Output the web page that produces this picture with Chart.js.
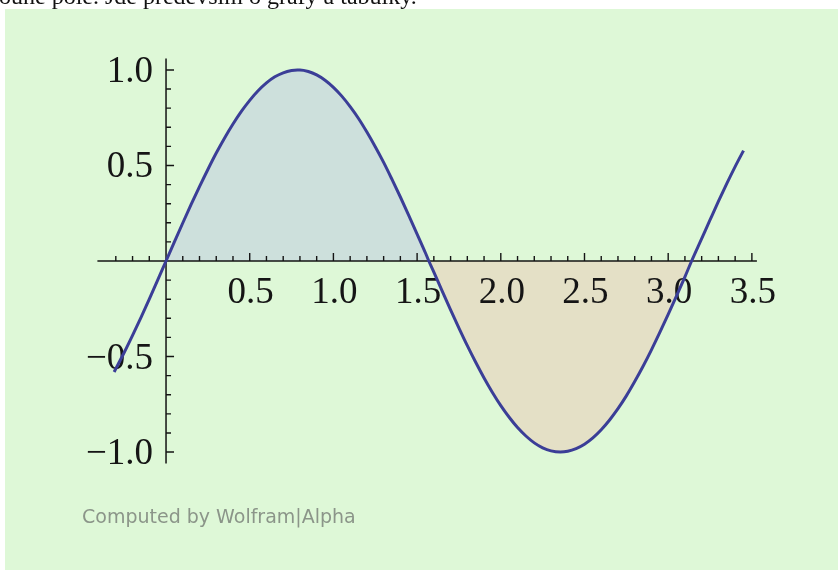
<!DOCTYPE html>
<html>
<head>
<meta charset="utf-8">
<script src="https://cdn.jsdelivr.net/npm/chart.js@4/dist/chart.umd.min.js"></script>
<style>
  html, body { margin: 0; padding: 0; background: #ffffff; overflow: hidden; }
  #panel { position: absolute; left: 5px; top: 9px; width: 833px; height: 561px; background: #def8d7; }
  #plot { position: absolute; left: 0; top: 0; }
</style>
</head>
<body>
<div id="panel"></div>
<canvas id="plot" width="838" height="571"></canvas>
<script>
// Curve samples: x positions and the value of the plotted curve at each
const xValues = [
  -0.31, -0.25, -0.20, -0.15, -0.10, -0.05, 0.00, 0.05, 0.10, 0.15, 0.20, 0.25,
  0.30, 0.35, 0.40, 0.45, 0.50, 0.55, 0.60, 0.65, 0.70, 0.75, 0.785, 0.80, 0.85,
  0.90, 0.95, 1.00, 1.05, 1.10, 1.15, 1.20, 1.25, 1.30, 1.35, 1.40, 1.45, 1.50,
  1.55, 1.57, 1.60, 1.65, 1.70, 1.75, 1.80, 1.85, 1.90, 1.95, 2.00, 2.05, 2.10,
  2.15, 2.20, 2.25, 2.30, 2.356, 2.40, 2.45, 2.50, 2.55, 2.60, 2.65, 2.70, 2.75,
  2.80, 2.85, 2.90, 2.95, 3.00, 3.05, 3.10, 3.14, 3.20, 3.25, 3.30, 3.35, 3.40, 3.45
];
const yValues = [
  -0.581, -0.479, -0.389, -0.296, -0.199, -0.100, 0.000, 0.100, 0.199, 0.296, 0.389, 0.479,
  0.565, 0.644, 0.717, 0.783, 0.841, 0.891, 0.932, 0.964, 0.985, 0.997, 1.000, 1.000, 0.992,
  0.974, 0.946, 0.909, 0.863, 0.808, 0.746, 0.675, 0.598, 0.516, 0.427, 0.335, 0.239, 0.141,
  0.042, 0.000, -0.058, -0.158, -0.256, -0.351, -0.443, -0.530, -0.612, -0.688, -0.757, -0.818, -0.872,
  -0.916, -0.952, -0.978, -0.994, -1.000, -0.996, -0.982, -0.959, -0.926, -0.883, -0.832, -0.773, -0.706,
  -0.631, -0.551, -0.465, -0.374, -0.279, -0.182, -0.083, 0.000, 0.117, 0.215, 0.312, 0.405, 0.494, 0.578
];

// Shaded intervals between the curve and the x axis
const upperBand = [0.00, 1.57];
const lowerBand = [1.57, 3.14];

// Axis ticks and their labels
const xMinorTicks = [-0.3, -0.2, -0.1, 0.1, 0.2, 0.3, 0.4, 0.6, 0.7, 0.8, 0.9, 1.1, 1.2, 1.3, 1.4,
  1.6, 1.7, 1.8, 1.9, 2.1, 2.2, 2.3, 2.4, 2.6, 2.7, 2.8, 2.9, 3.1, 3.2, 3.3, 3.4];
const xMajorTicks = [0.5, 1.0, 1.5, 2.0, 2.5, 3.0, 3.5];
const xTickLabels = ['0.5', '1.0', '1.5', '2.0', '2.5', '3.0', '3.5'];
const yMinorTicks = [-0.9, -0.8, -0.7, -0.6, -0.4, -0.3, -0.2, -0.1, 0.1, 0.2, 0.3, 0.4, 0.6, 0.7, 0.8, 0.9];
const yMajorTicks = [-1.0, -0.5, 0.5, 1.0];
const yTickLabels = ['\u22121.0', '\u22120.5', '0.5', '1.0'];

const headerText = 'ouhé pole. Jde především o grafy a tabulky.';
const creditText = 'Computed by Wolfram|Alpha';

const points = xValues.map((x, i) => ({ x, y: yValues[i] }));
const inBand = (band) => points.filter(p => p.x >= band[0] - 1e-9 && p.x <= band[1] + 1e-9);

const TICK_FONT = '37px "Liberation Serif", "Times New Roman", serif';

const axesPlugin = {
  id: 'crossAxes',
  beforeDatasetDraw(chart, args) {
    if (args.index !== 0) return;
    const { ctx, scales: { x, y } } = chart;
    const x0 = x.getPixelForValue(0);
    const y0 = y.getPixelForValue(0);
    ctx.save();
    ctx.strokeStyle = '#141414';
    ctx.lineWidth = 1.5;
    ctx.beginPath();
    ctx.moveTo(x.left, y0); ctx.lineTo(x.right, y0);
    ctx.moveTo(x0, y.top); ctx.lineTo(x0, y.bottom);
    ctx.stroke();

    ctx.lineWidth = 1.4;
    ctx.beginPath();
    xMinorTicks.forEach(v => { const p = x.getPixelForValue(v); ctx.moveTo(p, y0); ctx.lineTo(p, y0 - 5); });
    xMajorTicks.forEach(v => { const p = x.getPixelForValue(v); ctx.moveTo(p, y0); ctx.lineTo(p, y0 - 8); });
    yMinorTicks.forEach(v => { const p = y.getPixelForValue(v); ctx.moveTo(x0, p); ctx.lineTo(x0 + 5, p); });
    yMajorTicks.forEach(v => { const p = y.getPixelForValue(v); ctx.moveTo(x0, p); ctx.lineTo(x0 + 8, p); });
    ctx.stroke();

    ctx.fillStyle = '#151515';
    ctx.font = TICK_FONT;
    ctx.textBaseline = 'alphabetic';
    ctx.textAlign = 'center';
    xMajorTicks.forEach((v, i) => ctx.fillText(xTickLabels[i], x.getPixelForValue(v) + 1, y0 + 42));
    ctx.textAlign = 'right';
    yMajorTicks.forEach((v, i) => ctx.fillText(yTickLabels[i], x0 - 13, y.getPixelForValue(v) + 12));
    ctx.restore();
  },
  afterDraw(chart) {
    const { ctx } = chart;
    ctx.save();
    ctx.textBaseline = 'alphabetic';
    ctx.textAlign = 'left';
    ctx.fillStyle = '#111111';
    ctx.font = '24px "Liberation Serif", "Times New Roman", serif';
    ctx.fillText(headerText, -1, 4);
    ctx.fillStyle = '#8b9589';
    ctx.font = '19px "DejaVu Sans", sans-serif';
    ctx.fillText(creditText, 82, 523);
    ctx.restore();
  }
};

new Chart(document.getElementById('plot'), {
  type: 'line',
  data: {
    datasets: [
      {
        data: points,
        borderColor: '#3b3e97',
        borderWidth: 3,
        fill: false,
        pointRadius: 0,
        cubicInterpolationMode: 'monotone'
      },
      {
        data: inBand(upperBand),
        borderWidth: 0,
        borderColor: 'rgba(0,0,0,0)',
        backgroundColor: '#cde0dc',
        fill: 'origin',
        pointRadius: 0,
        cubicInterpolationMode: 'monotone'
      },
      {
        data: inBand(lowerBand),
        borderWidth: 0,
        borderColor: 'rgba(0,0,0,0)',
        backgroundColor: '#e4e0c6',
        fill: 'origin',
        pointRadius: 0,
        cubicInterpolationMode: 'monotone'
      }
    ]
  },
  options: {
    responsive: false,
    animation: false,
    events: [],
    layout: { padding: { left: 97.4, right: 81.1, top: 58.5, bottom: 107.5 } },
    plugins: { legend: { display: false }, tooltip: { enabled: false } },
    scales: {
      x: { type: 'linear', min: -0.41, max: 3.53, display: false },
      y: { type: 'linear', min: -1.06, max: 1.06, display: false }
    }
  },
  plugins: [axesPlugin]
});
</script>
</body>
</html>
